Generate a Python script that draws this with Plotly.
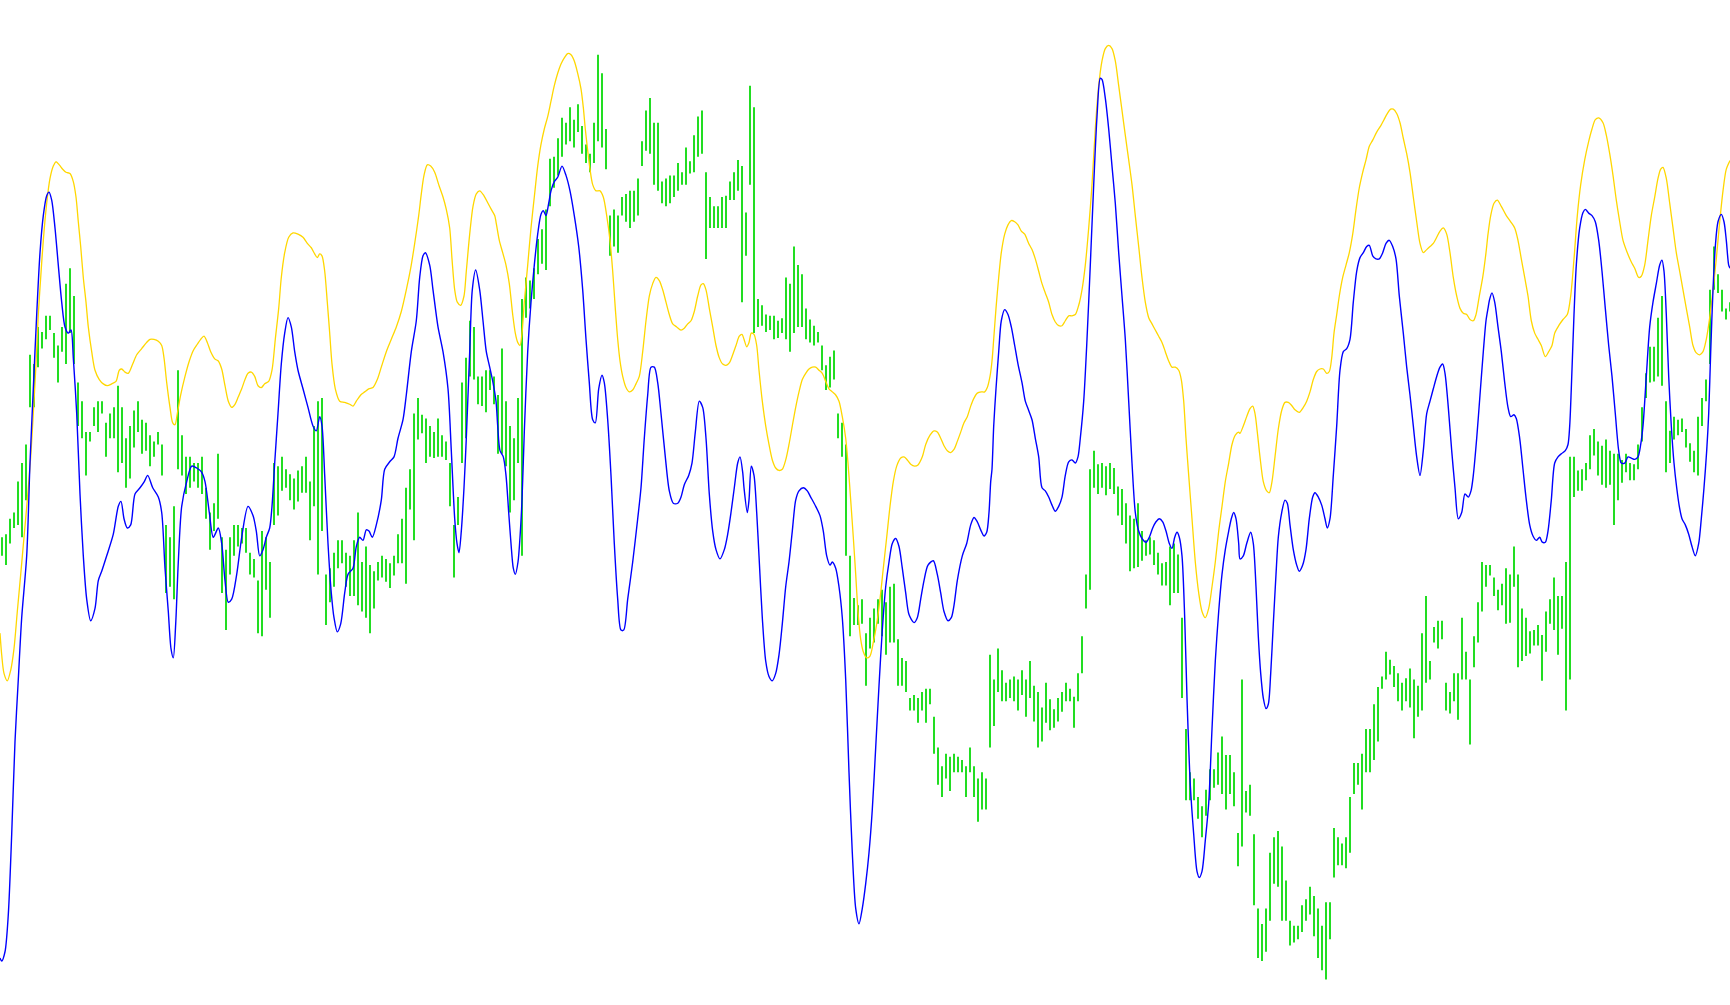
import plotly.graph_objects as go

# ---------------- data (arbitrary chart units; axis is inverted) ----------------
# Green high-low bars: one bar every 4 time units, read strip by strip.
bar_top = [
    820,815,790,780,730,700,670,525,540,480, 488,462,462,490,510,480,410,385,430,570,
    600,650,650,610,600,600,635,620,610,575, 610,660,640,615,600,630,635,655,665,650,
    670,800,820,770,550,655,690,690,700,700, 690,740,780,765,685,820,840,820,800,800,
    805,805,
    845,855,890,810,820,860,700,705,690,710, 718,725,712,705,690,730,640,600,595,880,
    870,845,825,825,845,850,825,780,860,835, 865,875,860,850,855,862,850,815,790,740,
    710,620,595,622,628,640,650,628,655,665, 700,800,755,570,530,470,480,560,560,550,
    550,560,
    590,515,600,640,660,595,435,400,405,385, 338,322,290,208,205,175,142,150,125,145,
    120,155,185,200,150,40,70,160,300,290, 300,270,265,260,260,240,180,130,110,150,
    150,245,240,235,235,215,230,190,212,170, 140,130,230,270,285,285,270,268,245,230,
    210,220,
    295,90,125,435,445,460,462,462,470,466, 400,410,350,380,395,450,468,478,488,510,
    542,528,518,620,635,670,850,918,930,920, 975,950,935,920,905,925,900,895,985,1015,
    1020,1080,1075,1080,1070,1065,1065,1110,1160,1190, 1170,1175,1170,1175,1180,1190,1160,1190,1210,1200,
    1210,1010,
    1050,1000,1035,1055,1050,1045,1050,1035,1050,1020, 1060,1070,1095,1055,1082,1098,1080,1070,1055,1065,
    1078,1040,980,880,710,680,702,700,705,700, 708,738,742,765,785,790,765,810,825,820,
    825,845,862,860,835,830,848,950,1130,1200, 1210,1240,1255,1228,1195,1195,1168,1142,1172,1172,
    1200,1298,
    1050,1230,1220,1300,1420,1445,1420,1330,1305,1295, 1320,1375,1440,1448,1448,1415,1405,1385,1400,1420,
    1448,1410,1410,1290,1305,1315,1305,1240,1185,1185, 1170,1130,1130,1090,1062,1045,1005,1018,1028,1040,
    1055,1048,1032,1050,1060,975,915,1020,965,955, 955,1055,1070,1040,1040,950,1005,1050,980,925,
    860,865,
    865,885,905,895,870,880,835,880,935,950, 972,970,962,978,940,920,885,915,915,860,
    690,690,712,710,700,655,645,665,672,662, 680,685,685,695,685,700,702,670,610,555,
    512,512,465,430,600,648,625,630,628,645, 668,680,625,595,565,420,350,395,420,450,
    440,
]
bar_bottom = [
    850,865,830,805,800,820,760,610,610,545, 515,500,485,530,570,520,540,490,540,640,
    660,720,665,640,650,620,690,660,660,715, 700,740,725,675,650,685,680,705,690,670,
    720,910,900,920,710,720,750,740,730,740, 750,790,840,810,790,910,970,880,850,835,
    830,845,
    880,885,975,980,905,950,800,785,745,740, 760,775,762,748,748,825,770,880,810,962,
    925,900,870,862,900,915,915,930,940,950, 975,935,890,885,892,902,882,862,862,895,
    775,825,662,652,700,690,692,690,690,695, 770,885,800,700,660,560,565,605,608,618,
    582,605,
    685,685,705,780,760,700,850,465,450,435, 395,378,388,285,255,235,205,185,180,190,
    165,200,215,230,215,180,190,225,365,350, 360,300,310,320,310,300,220,195,200,250,
    260,280,285,280,270,260,250,250,232,230, 205,200,370,320,320,320,320,320,275,275,
    260,440,
    365,250,490,480,478,488,485,500,498,490, 500,520,490,480,480,500,505,510,505,550,
    582,578,565,660,690,850,980,962,962,960, 1060,1000,990,960,980,1010,990,990,1060,1060,
    1070,1100,1100,1120,1100,1120,1090,1170,1220,1240, 1210,1230,1200,1200,1200,1240,1200,1240,1280,1260,
    1260,1160,
    1125,1070,1085,1085,1080,1085,1100,1075,1110,1080, 1118,1160,1150,1120,1132,1128,1118,1102,1085,1085,
    1128,1085,1040,935,905,740,750,740,752,742, 750,785,800,830,875,870,868,858,850,848,
    865,880,898,898,930,910,910,1080,1245,1245, 1245,1275,1305,1270,1245,1225,1220,1235,1260,1235,
    1255,1352,
    1320,1265,1270,1415,1500,1505,1490,1440,1380,1385, 1440,1440,1480,1475,1470,1458,1440,1430,1465,1500,
    1520,1535,1470,1370,1350,1350,1355,1330,1235,1220, 1260,1200,1200,1180,1150,1065,1050,1042,1062,1085,
    1100,1085,1095,1145,1110,1100,1055,1050,990,1000, 985,1100,1105,1085,1115,1050,1050,1155,1030,990,
    940,900,
    882,915,938,930,960,958,900,1030,1020,1012, 1008,995,995,1052,1005,960,970,1010,968,1100,
    1050,755,745,745,728,710,688,720,735,740, 735,800,760,732,715,728,728,710,665,595,
    570,568,560,575,715,700,662,655,650,675, 698,715,720,640,600,540,420,425,455,468,
    455,
]

# Blue indicator line (time, value)
blue_t = [
    0,1.7,5,8.3,11.7,15,18.3,21.7,26.7,30,33.3,36.7,40,43.3,46.7,49,51.7,55,58.3,61.7,65,68.3,71,73.3,76.7,
    80,83.3,86.7,90.7,95,98.3,101.7,106.7,113.3,118.3,121,124,127.3,130.7,135,140,144.3,147.7,152.7,158.3,
    161.7,165,168.3,171,173.3,175.7,178.3,181.7,186.7,191.7,196.7,201.7,205,209.3,213.3,218.3,221.7,225,
    228.3,231.7,236.7,241.7,
    248,253,256.3,259.7,263,266.3,269.7,272,274.7,278,281.3,284.7,288,291.3,294.7,298,303,308,313,316.3,
    319.7,322,324.7,328,331.3,334,337.3,340.7,344.7,348,353,356.3,359.7,363,366.3,369,372.3,376.3,381.3,
    384.7,389.7,394,398,403,406.3,411.3,416.3,419.7,423,425.3,429.7,433,438,443,448,451.3,454.7,457,459,
    461.3,464,466.3,469.7,472.3,475.7,479.7,483,486.3,489.7,493,
    496,497.7,500,503.3,506,508.7,511,513.3,515.3,518,520,522,524.3,527.7,531,534.3,537.7,541,543.3,546,
    548.7,551,554.3,557.7,562,566,570,574.3,578.7,582.7,586,589.3,592.7,595.3,598.7,602,604.3,607.7,611,
    614.3,617.7,621,623.7,627.7,632.7,637.7,641,644.3,647.7,651,654.3,657.7,661,665.3,669.3,673.3,677.7,
    681,684.3,688.7,692,695.3,699.3,702.7,706,709.3,712.7,716,720,724.3,727.7,731,734.3,737.7,740,742.7,
    744,747.3,749,751.3,754,756.7,759,762.3,765.7,769,772.3,775.7,779,782.3,785.7,789,792.3,795.7,799,
    803.3,807.3,810.7,815.7,820,823.3,826.7,830,832.3,835.7,839,842.3,845.7,849,852.3,855.7,859,862.3,
    865.7,869,872.3,875.7,879,882.3,885.7,889,892.3,895.7,899,902.3,905.7,909,914,917.3,920.7,924,928,
    933.3,937.3,940.7,944,948,951.3,954,957.3,962.3,966.7,970.7,974,977.3,980.7,984,986.7,989,990.7,
    992,993.7,996,998.7,1001.3,1004.7,1008,1011.3,1014.7,1018,1022,1025.3,1028.7,1032,1035.3,1038.7,1042,
    1045.3,1048.7,1052,1055.3,1058.7,1062,1065.3,1068.7,1072,1075.3,1078,1080.3,1083.7,1087,1090.3,1093.7,
    1097,1100.3,1102,1105.3,1108.7,1112,1115.3,1118.7,1122,1125.3,1128.7,1132,1135.3,1138.7,1142,1146,
    1149.3,1152.7,1156,1159.3,1162.7,1166,1169.3,1172,1174.7,1177,1179.3,1182,1184.7,1187,1190.3,1193.7,
    1197,1199.3,1202,1205.3,1208.7,1212,1215.3,1218.7,1222,1225.3,1228.7,1231.3,1233.7,1236,1238.7,
    1240,1243.3,1246.7,1250.7,1253.3,1256,1258.3,1260.7,1263.3,1266,1268.3,1270.7,1273.3,1276,1278.3,
    1281.7,1285,1287.3,1290,1293.3,1296.7,1299.3,1302.7,1306,1309.3,1312.7,1315,1318.3,1321.7,1325,1327.3,
    1330,1333.3,1336.7,1340,1343.3,1346.7,1350,1353.3,1356.7,1360,1363.3,1366.7,1369.3,1372.7,1376,1379.3,
    1382.7,1386,1389.3,1392.7,1396,1399.3,1403.3,1406.7,1410,1413.3,1416.7,1420,1423.3,1426.7,1430,1433.3,
    1436.7,1440,1442.7,1445,1448.3,1451.7,1455,1458.3,1461.7,1465,1468.3,1471,1473.3,1476.7,1480,1483.3,1486,
    1488,1489.7,1492,1494.7,1498,1501.3,1504.7,1508,1510.7,1514,1516.3,1519.7,1523,1526.3,1529.7,1533,
    1536.3,1539.7,1542.3,1545.3,1548,1551.3,1554.7,1558,1561.3,1565.3,1568,1569.7,1571.3,1574,1576.3,
    1579.7,1583,1585.3,1588.7,1592,1595.3,1598.7,1602,1605.3,1608.7,1612,1615.3,1618.7,1621.3,1624.7,1628,
    1631.3,1634.7,1638,1640.7,1643,1646.3,1649.7,1653,1656.3,1659.7,1662,1664,1666.3,1668.7,1671.3,1674,
    1676.7,1679.3,1682,1685.3,1688.7,1692,1695.3,1698.7,1701.3,1704,1706.7,1708.7,1710.7,1713,1715.3,1718,
    1721.3,1724,1726.3,1728.7,1730,
]
blue_v = [
    1500,1505,1490,1430,1300,1150,1050,950,850,700,580,460,360,300,268,262,275,320,380,440,480,490,485,530,620,
    750,850,920,955,935,890,875,850,815,770,762,790,805,800,750,740,730,720,740,755,
    780,870,940,1000,1015,960,860,770,730,705,708,715,730,780,820,805,830,890,
    925,920,880,820,
    770,785,810,850,840,820,805,770,700,620,540,490,465,480,520,550,580,610,640,648,
    625,640,720,830,910,950,973,960,910,880,870,835,820,825,808,810,820,800,760,
    710,698,690,660,630,590,520,470,400,365,360,380,420,480,520,580,680,790,830,845,
    810,740,660,520,420,388,420,470,520,545,570,
    600,640,680,690,720,780,830,870,880,860,820,760,650,520,440,380,330,298,292,300,
    280,260,245,238,220,235,260,300,350,420,500,570,630,635,580,558,570,630,720,
    830,920,970,970,920,860,790,740,660,590,545,545,570,620,690,745,765,765,
    755,735,720,700,650,600,610,660,750,810,840,855,840,815,780,740,700,690,715,
    740,780,760,705,720,780,850,950,1020,1045,1052,1040,1010,960,900,860,810,760,745,
    740,745,755,770,785,810,850,865,860,870,900,950,1050,1200,1330,1420,1445,1420,
    1380,1330,1260,1160,1060,970,900,860,830,822,835,870,910,945,958,950,920,890,865,
    858,880,910,940,955,950,930,890,850,830,800,788,795,808,818,812,780,730,
    710,640,580,520,470,452,460,480,510,540,570,600,615,630,660,690,740,
    745,755,768,778,770,755,720,698,695,700,690,660,600,500,380,250,
    140,78,80,110,160,220,280,360,430,500,600,700,780,810,822,828,
    820,805,795,790,795,810,830,838,820,812,820,850,950,1080,1220,1300,
    1360,1370,1360,1310,1250,1130,1020,940,880,840,810,790,780,790,830,
    855,850,830,812,830,900,980,1040,1080,1097,1090,1040,960,880,820,
    780,760,765,800,840,865,875,865,840,790,755,748,755,768,790,805,
    790,720,640,550,520,515,500,440,390,368,360,350,348,365,370,370,
    360,345,340,350,370,430,490,545,590,640,690,720,680,620,600,580,
    560,545,540,555,610,680,740,790,780,750,755,745,720,660,590,520,470,
    450,435,425,440,480,520,570,610,625,622,628,660,710,760,800,818,
    825,820,828,828,810,760,700,690,685,680,670,640,580,460,380,
    320,295,290,296,300,310,340,390,450,510,560,620,680,700,700,690,
    692,694,690,670,640,560,480,440,410,380,372,390,460,560,640,700,
    740,770,790,800,815,835,850,830,790,740,680,620,520,420,350,310,
    298,310,340,380,385,
]

# Gold indicator line (time, value)
gold_t = [
    0,1.7,4,7.3,10.7,14,17.3,20.7,24,27.3,30.7,33.3,36,38.3,40.7,43.3,46.7,50,53.3,56,59.3,62.7,66,70,73.3,
    76,78.3,80.7,83.3,86,88.3,91.7,95,99.3,103.3,107.3,111.7,116,119.3,121.7,125,128.3,132.7,136.7,141.7,
    146.7,150,154,158.3,161.7,164,166.7,170,172.7,175,177.3,180.7,185,189.3,193.3,197.3,200.7,204,207.3,
    210.7,215,218.3,221.7,225,228.3,231.7,235,238.3,241.7,245,248,
    251.3,254.7,258,261.3,264.7,268.7,272,275.3,278.7,281.3,284.7,288.7,293,298,303,307.3,311.3,314.7,
    317.3,319.7,322,324.7,327.3,329.7,332,335.3,339.7,344.7,349.7,353,356.3,360.7,364.7,368.7,373,377.3,
    381.3,386.3,391.3,396.3,401.3,406.3,410.7,414.7,418.7,421.3,424,427.3,430.7,434.7,438.7,443,446.3,
    449.7,452,454.7,457.3,460.7,464,466.3,469.7,473,476.3,479.7,484,488,491.3,494.7,
    496,499.3,502.7,506,509.3,512.7,515.3,517.7,520,522,524.3,527.7,531,534.3,537.7,541,544.3,547.7,551,
    554.3,557.7,561,564.3,567.7,571,574.3,577.7,581,583.3,585.3,587.7,590,592.7,596,600,603.3,606.7,610,
    612.7,615.3,617.7,620,622.7,626,629.3,632.7,636,639.3,642.7,646,649.3,652.7,656,659.3,662.7,666,669.3,
    672.7,676.7,681,684.3,687.7,691,694.3,697.7,701,703.3,706,709.3,712.7,716,719.3,722.7,726,729.3,732.7,
    736,739.3,742,
    744,746.7,749,751.3,754,756.7,759,762.3,765.7,769,772.3,775.7,779,782.3,785.7,789,792.3,795.7,799,
    802.3,805.7,809,812.3,815.7,819,822.3,825.7,829,832.3,835.7,839,842.3,845.7,848,850.7,853.3,855.7,858,
    860.7,863.3,866.7,870,873.3,876.7,880,883.3,886.7,890,893.3,896.7,900.7,904,907.3,910.7,914.7,918,
    922.3,925.7,930,934,937.3,940.7,944,947.3,950.7,954,957.3,960.7,964,967.3,970.7,974,977.3,981.3,984.7,
    987.3,990,
    992,993.7,996,998.7,1001.3,1004.7,1008,1011.3,1014.7,1018,1021.3,1024.7,1028.7,1032,1035.3,1038.7,1042,
    1045.3,1048.7,1052,1055.3,1058.7,1062,1065.3,1068.7,1072,1075.3,1078.7,1082,1085.3,1088.7,1092,1095.3,
    1098.7,1102,1105.3,1108.7,1112,1115.3,1118.7,1122,1125.3,1128.7,1132,1135.3,1138.7,1142,1145.3,1148.7,
    1152,1155.3,1158.7,1162,1165.3,1168.7,1172,1175.3,1178.7,1181.3,1183.7,1186,1188.7,1192,1195.3,1198.7,
    1202,1205.3,1208.7,1212,1215.3,1218.7,1222,1225.3,1228.7,1232,1235.3,1238.7,
    1240,1243.3,1246.7,1250,1252.7,1255,1257.3,1260,1263.3,1266.7,1269.3,1272,1275,1278.3,1281.7,1285,
    1288.3,1291.7,1295,1299.3,1303.3,1306.7,1310,1313.3,1316.7,1320,1323.3,1326.7,1329.3,1331.7,1334,
    1336.7,1339.3,1342.7,1346,1349.3,1352.7,1356,1359.3,1362.7,1366,1369.3,1372.7,1376.7,1380.7,1384,
    1387.3,1390.7,1393.3,1396.7,1400,1403.3,1406.7,1410,1413.3,1416.7,1420,1423.3,1426.7,1430,1433.3,
    1436.7,1440,1443.3,1446.7,1450,1453.3,1456.7,1460,1463.3,1466.7,1470,1473.3,1476,1479.3,1482.7,1486,
    1488,1490.7,1494,1497.3,1501.3,1506.3,1510.7,1514.7,1518,1521.3,1524.7,1528,1531.3,1534.7,1538,1541.3,
    1545.3,1548.7,1552,1554.7,1558.7,1563,1567.3,1570.7,1574,1577.3,1580.7,1584.7,1588.7,1592,1595.3,
    1598.7,1603,1606.3,1609.7,1613,1616.3,1619.7,1623,1627.3,1631.3,1634.7,1638.7,1641.3,1644.7,1648,
    1651.3,1654.7,1658,1660.7,1663,1666.3,1669.7,1673,1676.3,1679.7,1683,1686.3,1689.7,1693,1696.3,1699.7,
    1703,1706.3,1709.7,1713,1716.3,1719.7,1723,1726.3,1730,
]
gold_v = [
    975,1010,1040,1052,1035,1000,940,880,820,760,690,620,540,460,400,340,280,240,220,213,218,225,230,232,245,
    270,310,350,400,440,480,520,550,565,572,575,572,568,550,548,553,555,540,525,515,
    505,500,500,503,510,530,570,610,635,638,620,590,560,535,518,508,500,495,505,
    520,532,535,548,575,600,610,605,593,580,565,555,
    553,560,575,578,572,568,550,500,450,400,360,335,328,330,335,345,352,362,
    368,362,365,390,440,490,540,580,600,602,605,608,600,590,585,580,578,565,
    545,520,500,480,455,420,385,345,300,265,235,218,220,230,250,270,290,
    320,370,420,440,445,430,390,330,285,265,260,268,280,290,300,
    310,340,360,380,410,460,490,505,510,490,440,380,320,270,220,185,160,140,115,
    90,70,55,45,38,40,50,70,95,125,160,195,225,250,260,260,270,300,340,
    390,450,500,535,560,578,585,582,572,560,520,470,430,410,400,405,420,440,460,
    475,480,485,482,475,470,455,430,412,410,420,450,480,510,530,540,542,538,525,
    510,495,492,
    500,512,505,490,492,510,550,600,640,670,695,708,712,710,695,670,640,610,585,
    565,555,548,545,545,550,555,568,580,585,590,600,625,660,700,760,820,880,940,
    985,1005,1015,1012,990,960,920,870,820,770,730,705,692,690,695,702,705,703,
    690,670,655,648,650,660,672,680,683,678,665,650,635,625,608,595,587,585,585,
    578,560,
    535,500,450,400,360,330,315,308,310,315,325,330,345,355,370,390,410,
    425,440,460,472,478,478,470,462,462,460,445,420,380,320,250,160,
    90,50,30,25,30,50,90,130,170,210,250,300,350,400,440,465,475,
    485,495,505,520,535,545,545,550,565,600,660,720,790,860,910,
    940,950,935,900,860,810,770,730,700,670,655,650,
    652,640,625,612,608,620,650,690,730,745,748,730,690,645,615,602,
    602,607,614,618,610,600,585,565,552,548,548,555,552,530,490,
    460,430,400,380,360,330,290,255,230,210,188,178,165,155,145,
    135,128,128,135,150,175,200,230,270,310,345,360,355,350,345,
    335,325,320,330,360,400,430,450,458,460,468,470,460,430,400,360,
    330,300,280,275,285,300,310,320,340,370,400,430,470,490,500,510,
    528,520,510,490,478,468,460,430,370,300,250,210,180,160,145,
    142,150,170,200,235,275,310,340,360,375,385,400,398,380,340,
    300,270,240,225,222,240,280,320,360,390,420,450,480,510,522,525,
    520,500,465,420,370,310,260,225,211,
]

# time coordinate of each bar (one bar per period)
bar_t = [2 + 4 * i for i in range(len(bar_top))]

GREEN = "#22DD22"
BLUE = "#0000FF"
GOLD = "#FFD700"

fig = go.Figure()
fig.add_trace(go.Bar(
    x=bar_t,
    base=bar_top,
    y=[b - t for t, b in zip(bar_top, bar_bottom)],
    width=2,
    marker=dict(color=GREEN, line=dict(width=0)),
    hoverinfo="skip",
))
fig.add_trace(go.Scatter(
    x=gold_t, y=gold_v, mode="lines",
    line=dict(color=GOLD, width=1.3, shape="spline", smoothing=0.8), hoverinfo="skip",
))
fig.add_trace(go.Scatter(
    x=blue_t, y=blue_v, mode="lines",
    line=dict(color=BLUE, width=1.4, shape="spline", smoothing=0.8), hoverinfo="skip",
))

fig.update_layout(
    width=1730, height=1005,
    margin=dict(l=0, r=0, t=0, b=0),
    paper_bgcolor="white", plot_bgcolor="white",
    showlegend=False,
    xaxis=dict(range=[0, 1730], visible=False, fixedrange=True),
    yaxis=dict(range=[1576.1, -48.5], visible=False, fixedrange=True),
)

fig.write_html(
    "out.html",
    config={"displayModeBar": False, "staticPlot": True},
    post_script="document.body.style.margin='0px';document.body.style.overflow='hidden';",
)
